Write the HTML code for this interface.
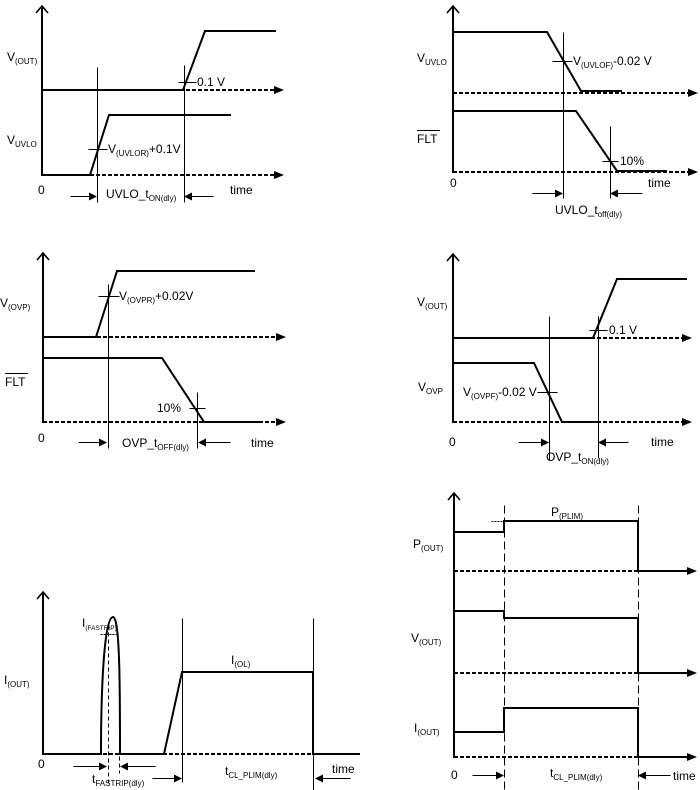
<!DOCTYPE html>
<html><head><meta charset="utf-8"><style>
html,body{margin:0;padding:0;background:#fff;}
svg{display:block;}
text{font-family:"Liberation Sans",Arial,sans-serif;font-size:12px;fill:#000;}
.s{font-size:8px;}
.ss{font-size:6.5px;}
</style></head><body>
<svg width="700" height="790" viewBox="0 0 700 790" xmlns="http://www.w3.org/2000/svg">
<g fill="none" stroke="#000" stroke-width="2" stroke-linejoin="miter">
<!-- Panel 1 -->
<line x1="42" y1="6" x2="42" y2="176"/>
<polyline points="36,13 42,6 48,13" stroke-width="1.6"/>
<polyline points="42,90 183,90 205,31 276,31"/>
<polyline points="42,175 90,175 109,115 231,115"/>
<line x1="42" y1="90" x2="276" y2="90" stroke-dasharray="4,2"/>
<line x1="42" y1="175" x2="276" y2="175" stroke-dasharray="4,2"/>
<!-- Panel 2 -->
<line x1="453" y1="6" x2="453" y2="173"/>
<polyline points="447,13 453,6 459,13" stroke-width="1.6"/>
<polyline points="453,32 547,32 581,91 622,91"/>
<polyline points="453,111 576,111 617,171 667,171"/>
<line x1="453" y1="93" x2="690" y2="93" stroke-dasharray="4,2"/>
<line x1="453" y1="172" x2="690" y2="172" stroke-dasharray="4,2"/>
<!-- Panel 3 -->
<line x1="43" y1="253" x2="43" y2="423"/>
<polyline points="37,260 43,253 49,260" stroke-width="1.6"/>
<polyline points="43,337 96,337 117,271 255,271"/>
<polyline points="43,358 162,358 204,422 259,422"/>
<line x1="43" y1="337" x2="278" y2="337" stroke-dasharray="4,2"/>
<line x1="43" y1="422" x2="278" y2="422" stroke-dasharray="4,2"/>
<!-- Panel 4 -->
<line x1="453" y1="254" x2="453" y2="423"/>
<polyline points="447,261 453,254 459,261" stroke-width="1.6"/>
<polyline points="453,338 593,338 617,279 687,279"/>
<polyline points="453,363 534,363 562,422 598,422"/>
<line x1="453" y1="338" x2="684" y2="338" stroke-dasharray="4,2"/>
<line x1="453" y1="422" x2="684" y2="422" stroke-dasharray="4,2"/>
<!-- Panel 5 -->
<line x1="43" y1="592" x2="43" y2="755"/>
<polyline points="37,599 43,592 49,599" stroke-width="1.6"/>
<line x1="43" y1="754" x2="313" y2="754" stroke-dasharray="4,2"/>
<path d="M43,754 L101,754 C101,690 104,617 113,617 C120,617 120,690 120,754 L164,754 L182,672 L313,672 L313,754 L360,754"/>
<!-- Panel 6 -->
<line x1="454" y1="493" x2="454" y2="758"/>
<polyline points="448,500 454,493 460,500" stroke-width="1.6"/>
<polyline points="454,532 504,532 504,521 638,521 638,571 688,571"/>
<polyline points="454,611 504,611 504,618 638,618 638,673 688,673"/>
<polyline points="454,732 504,732 504,708 638,708 638,757 688,757"/>
<line x1="454" y1="571" x2="638" y2="571" stroke-dasharray="4,2"/>
<line x1="454" y1="673" x2="638" y2="673" stroke-dasharray="4,2"/>
<line x1="454" y1="757" x2="638" y2="757" stroke-dasharray="4,2"/>
</g>
<!-- thin lines -->
<g fill="none" stroke="#000" stroke-width="1" transform="translate(0.5,0.5)">
<!-- P1 -->
<line x1="97" y1="67" x2="97" y2="202"/>
<line x1="184" y1="65" x2="184" y2="202"/>
<line x1="88" y1="149" x2="107" y2="149"/>
<line x1="178" y1="82" x2="196" y2="82"/>
<line x1="70" y1="196" x2="91" y2="196"/>
<line x1="213" y1="196" x2="191" y2="196"/>
<!-- P2 -->
<line x1="563" y1="32" x2="563" y2="198"/>
<line x1="610" y1="126" x2="610" y2="198"/>
<line x1="552" y1="61" x2="572" y2="61"/>
<line x1="602" y1="161" x2="618" y2="161"/>
<line x1="532" y1="193" x2="557" y2="193"/>
<line x1="642" y1="193" x2="616" y2="193"/>
<!-- P3 -->
<line x1="108" y1="284" x2="108" y2="448"/>
<line x1="197" y1="392" x2="197" y2="448"/>
<line x1="98" y1="296" x2="119" y2="296"/>
<line x1="189" y1="408" x2="205" y2="408"/>
<line x1="78" y1="442" x2="101" y2="442"/>
<line x1="230" y1="442" x2="204" y2="442"/>
<!-- P4 -->
<line x1="549" y1="316" x2="549" y2="460"/>
<line x1="598" y1="316" x2="598" y2="458"/>
<line x1="589" y1="330" x2="607" y2="330"/>
<line x1="537" y1="392" x2="557" y2="392"/>
<line x1="518" y1="442" x2="543" y2="442"/>
<line x1="628" y1="442" x2="604" y2="442"/>
<!-- P5 -->
<line x1="182" y1="618" x2="182" y2="782"/>
<line x1="313" y1="618" x2="313" y2="790"/>
<line x1="108" y1="625" x2="108" y2="785" stroke-dasharray="4,3"/>
<line x1="119" y1="700" x2="119" y2="773" stroke-dasharray="4,3"/>
<line x1="100" y1="634" x2="116" y2="634" stroke-dasharray="2,1"/>
<line x1="73" y1="766" x2="101" y2="766"/>
<line x1="155" y1="766" x2="126" y2="766"/>
<line x1="152" y1="778" x2="176" y2="778"/>
<line x1="350" y1="778" x2="321" y2="778"/>
<!-- P6 -->
<line x1="504" y1="505" x2="504" y2="790" stroke-dasharray="8,4"/>
<line x1="638" y1="505" x2="638" y2="790" stroke-dasharray="8,4"/>
<line x1="491" y1="521" x2="504" y2="521" stroke-dasharray="2,1"/>
<line x1="472" y1="775" x2="498" y2="775"/>
<line x1="670" y1="775" x2="644" y2="775"/>
</g>
<!-- arrowheads -->
<g fill="#000" stroke="none">
<polygon points="274,86 284,90 274,94"/>
<polygon points="274,171 284,175 274,179"/>
<polygon points="688,89 698,93 688,97"/>
<polygon points="688,168 698,172 688,176"/>
<polygon points="276,333 286,337 276,341"/>
<polygon points="276,418 286,422 276,426"/>
<polygon points="682,334 692,338 682,342"/>
<polygon points="682,418 692,422 682,426"/>
<polygon points="687,567 697,571 687,575"/>
<polygon points="687,669 697,673 687,677"/>
<polygon points="687,753 697,757 687,761"/>
<!-- marker arrows -->
<polygon points="89,192.5 97,196.5 89,200.5"/>
<polygon points="192,192.5 184,196.5 192,200.5"/>
<polygon points="555,189.5 563,193.5 555,197.5"/>
<polygon points="618,189.5 610,193.5 618,197.5"/>
<polygon points="99,438.5 107,442.5 99,446.5"/>
<polygon points="206,438.5 198,442.5 206,446.5"/>
<polygon points="541,438.5 549,442.5 541,446.5"/>
<polygon points="606,438.5 598,442.5 606,446.5"/>
<polygon points="99,762.5 107,766.5 99,770.5"/>
<polygon points="128,762.5 120,766.5 128,770.5"/>
<polygon points="174,774.5 182,778.5 174,782.5"/>
<polygon points="323,774.5 315,778.5 323,782.5"/>
<polygon points="496,771.5 504,775.5 496,779.5"/>
<polygon points="646,771.5 638,775.5 646,779.5"/>
</g>
<!-- Texts Panel 1 -->
<text x="7" y="61">V<tspan class="s" dy="3">(OUT)</tspan></text>
<text x="7" y="144">V<tspan class="s" dy="3">UVLO</tspan></text>
<text x="108" y="153">V<tspan class="s" dy="3">(UVLOR)</tspan><tspan dy="-3">+0.1V</tspan></text>
<text x="197" y="86">0.1 V</text>
<text x="38" y="194">0</text>
<text x="106" y="198">UVLO_t<tspan class="s" dy="3">ON(dly)</tspan></text>
<text x="230" y="194">time</text>
<!-- Panel 2 -->
<text x="417" y="62">V<tspan class="s" dy="3">UVLO</tspan></text>
<text x="573" y="65">V<tspan class="s" dy="3">(UVLOF)</tspan><tspan dy="-3">-0.02 V</tspan></text>
<text x="417" y="143">FLT</text>
<line x1="417" y1="130.5" x2="440" y2="130.5" stroke="#000" stroke-width="1"/>
<text x="620" y="165">10%</text>
<text x="450" y="187">0</text>
<text x="648" y="187">time</text>
<text x="555" y="214">UVLO_t<tspan class="s" dy="3">off(dly)</tspan></text>
<!-- Panel 3 -->
<text x="0" y="307">V<tspan class="s" dy="3">(OVP)</tspan></text>
<text x="119" y="300">V<tspan class="s" dy="3">(OVPR)</tspan><tspan dy="-3">+0.02V</tspan></text>
<text x="5" y="386">FLT</text>
<line x1="5" y1="373.5" x2="28" y2="373.5" stroke="#000" stroke-width="1"/>
<text x="157" y="412">10%</text>
<text x="38" y="442">0</text>
<text x="122" y="447">OVP_t<tspan class="s" dy="3">OFF(dly)</tspan></text>
<text x="251" y="447">time</text>
<!-- Panel 4 -->
<text x="417" y="306">V<tspan class="s" dy="3">(OUT)</tspan></text>
<text x="418" y="391">V<tspan class="s" dy="3">OVP</tspan></text>
<text x="609" y="334">0.1 V</text>
<text x="463" y="396">V<tspan class="s" dy="3">(OVPF)</tspan><tspan dy="-3">-0.02 V</tspan></text>
<text x="449" y="446">0</text>
<text x="651" y="446">time</text>
<text x="546" y="461">OVP_t<tspan class="s" dy="3">ON(dly)</tspan></text>
<!-- Panel 5 -->
<text x="4" y="684">I<tspan class="s" dy="3">(OUT)</tspan></text>
<text x="82" y="627">I<tspan class="ss" dy="3">(FASTRIP)</tspan></text>
<text x="231" y="664">I<tspan class="s" dy="3">(OL)</tspan></text>
<text x="38" y="768">0</text>
<text x="92" y="783">t<tspan class="s" dy="3">FASTRIP(dly)</tspan></text>
<text x="225" y="775">t<tspan class="s" dy="3">CL_PLIM(dly)</tspan></text>
<text x="332" y="773">time</text>
<!-- Panel 6 -->
<text x="551" y="516">P<tspan class="s" dy="3">(PLIM)</tspan></text>
<text x="413" y="548">P<tspan class="s" dy="3">(OUT)</tspan></text>
<text x="411" y="642">V<tspan class="s" dy="3">(OUT)</tspan></text>
<text x="414" y="732">I<tspan class="s" dy="3">(OUT)</tspan></text>
<text x="451" y="779">0</text>
<text x="550" y="777">t<tspan class="s" dy="3">CL_PLIM(dly)</tspan></text>
<text x="673" y="780">time</text>
</svg>
</body></html>
